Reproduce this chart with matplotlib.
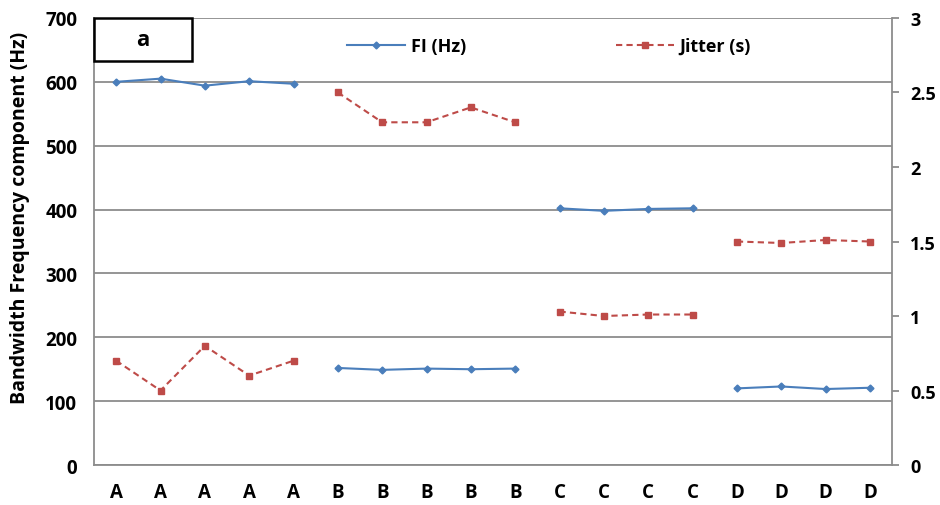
import matplotlib
matplotlib.use("Agg")
import matplotlib.pyplot as plt
import numpy as np

plt.rcParams['font.family'] = ['Open Sans', 'DejaVu Sans']

categories = ['A'] * 5 + ['B'] * 5 + ['C'] * 4 + ['D'] * 4
fi_hz = [600, 605, 594, 601, 597,
         152, 149, 151, 150, 151,
         402, 398, 401, 402,
         120, 123, 119, 121]
jitter_s = [0.70, 0.50, 0.80, 0.60, 0.70,
            2.50, 2.30, 2.30, 2.40, 2.30,
            1.03, 1.00, 1.01, 1.01,
            1.50, 1.49, 1.51, 1.50]
left_ticks = [0, 100, 200, 300, 400, 500, 600, 700]
right_ticks = [0, 0.5, 1, 1.5, 2, 2.5, 3]
right_labels = ['0', '0.5', '1', '1.5', '2', '2.5', '3']

blue = '#4A7EBB'
red = '#BE4B48'
grid_grey = '#8C8C8C'

fig = plt.figure(figsize=(9.4, 5.06), dpi=100)
ax = fig.add_axes([0.1, 0.079, 0.849, 0.8835])
ax2 = ax.twinx()

x = np.arange(len(categories))
cats = np.array(categories)

# each letter group is drawn as its own segment (gaps between groups)
for g in ['A', 'B', 'C', 'D']:
    idx = np.where(cats == g)[0]
    ax.plot(x[idx], np.array(fi_hz)[idx], color=blue, lw=1.5,
            marker='D', ms=3.5, label='FI (Hz)' if g == 'A' else None)
    ax2.plot(x[idx], np.array(jitter_s)[idx], color=red, lw=1.5, ls=(0, (3, 2)),
             marker='s', ms=5, label='Jitter (s)' if g == 'A' else None)

ax.set_xlim(-0.5, len(categories) - 0.5)
ax.set_ylim(0, 700)
ax.set_yticks(left_ticks)
ax2.set_ylim(0, 3)
ax2.set_yticks(right_ticks)
ax2.set_yticklabels(right_labels)

ax.set_xticks(x)
ax.set_xticklabels(categories)
ax.yaxis.grid(True, color=grid_grey, lw=1.3)
ax.set_axisbelow(True)

for a in (ax, ax2):
    for s in a.spines.values():
        s.set_color(grid_grey)
        s.set_linewidth(1.3)
    a.spines['top'].set_visible(False)
ax2.spines['left'].set_visible(False)
ax2.spines['bottom'].set_visible(False)
ax.spines['right'].set_visible(False)

ax.tick_params(axis='y', length=0, pad=12, labelsize=13.5)
ax.tick_params(axis='x', length=0, pad=12, labelsize=13.5)
ax2.tick_params(axis='y', length=5, width=1.3, color=grid_grey, pad=8, labelsize=13)
for lab in ax.get_xticklabels() + ax.get_yticklabels() + ax2.get_yticklabels():
    lab.set_fontweight('bold')

ax.set_ylabel('Bandwidth Frequency component (Hz)', fontsize=14, fontweight='bold')
ax.yaxis.set_label_coords(-0.08, 0.555)

h1, l1 = ax.get_legend_handles_labels()
h2, l2 = ax2.get_legend_handles_labels()
ax2.legend(h1 + h2, l1 + l2, loc='center', bbox_to_anchor=(0.57, 0.937),
           ncol=2, frameon=False, columnspacing=8.3, handlelength=3.2,
           handletextpad=0.3, prop={'weight': 'bold', 'size': 13})

box_w, box_h = 98 / 798, 43 / 447
ax.add_patch(plt.Rectangle((0, 1 - box_h), box_w, box_h, transform=ax.transAxes,
                           fc='white', ec='black', lw=1.8, zorder=5, clip_on=False))
ax.text(box_w / 2, 1 - box_h / 2, 'a', transform=ax.transAxes, ha='center',
        va='center', fontsize=16, fontweight='bold', zorder=6)

fig.savefig('out.png', dpi=100)
